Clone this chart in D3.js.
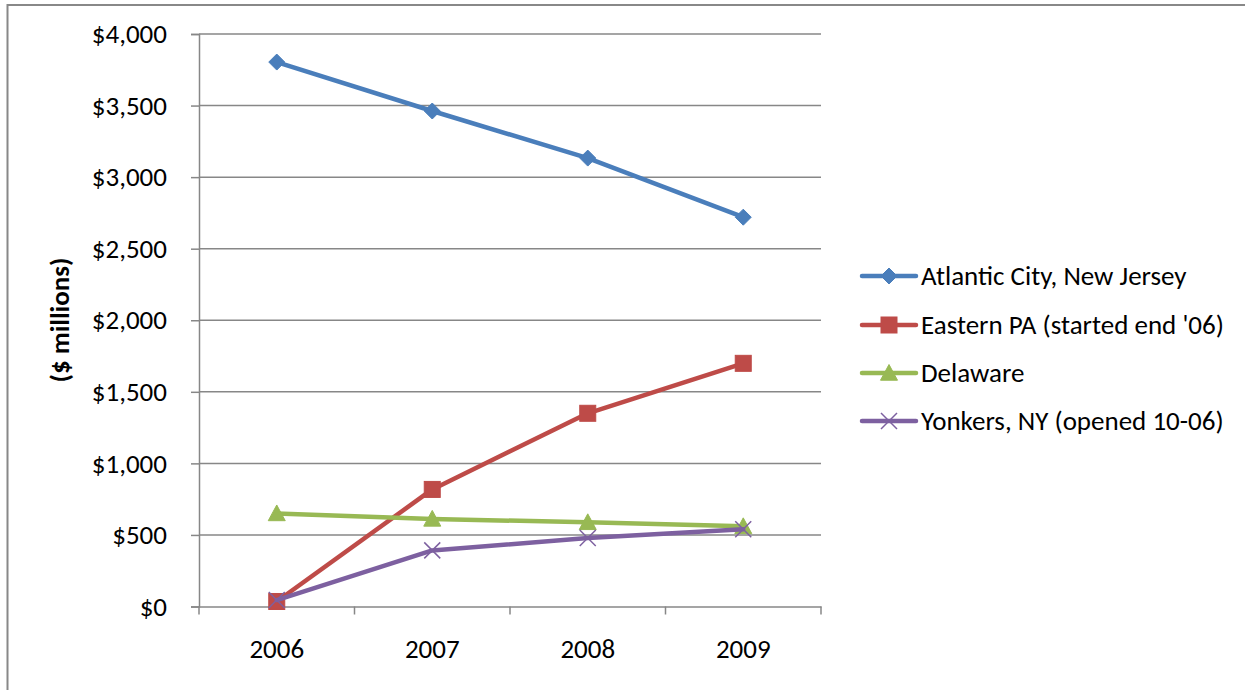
<!DOCTYPE html>
<html><head><meta charset="utf-8">
<script src="https://cdn.jsdelivr.net/npm/d3@7"></script>
<style>
html,body{margin:0;padding:0;background:#fff;}
svg{display:block;font-family:Carlito,Calibri,"Open Sans",sans-serif;}
</style></head>
<body>
<svg id="chart" width="1245" height="690"></svg>
<script>
const years = ["2006","2007","2008","2009"];
const seriesNames = ["Atlantic City, New Jersey","Eastern PA (started end '06)","Delaware","Yonkers, NY (opened 10-06)"];
const atlanticCity = [3804, 3462, 3133, 2720];
const easternPA = [35, 818, 1350, 1699];
const delaware = [650, 612, 588, 560];
const yonkers = [45, 392, 478, 540];
const yTicks = [0,500,1000,1500,2000,2500,3000,3500,4000];
const colors = ["#4A7EBB","#BE4B48","#98B954","#7D60A0"];
const markers = ["diamond","square","triangle","x"];

const series = [atlanticCity, easternPA, delaware, yonkers].map((v,i)=>({name:seriesNames[i], values:v, color:colors[i], marker:markers[i]}));

const FS = 27;
const svg = d3.select("#chart");
const L=199, R=821, T=34, B=606.5;
const x = d3.scaleBand().domain(years).range([L,R]);
const y = d3.scaleLinear().domain([0,4000]).range([B,T]);

// outer frame
svg.append("path").attr("d","M7.5,690 L7.5,5 L1245,5").attr("fill","none").attr("stroke","#888").attr("stroke-width",2);

// gridlines
svg.append("g").selectAll("line").data(yTicks.filter(d=>d>0)).join("line")
  .attr("x1",L).attr("x2",R).attr("y1",d=>y(d)).attr("y2",d=>y(d))
  .attr("stroke","#878787").attr("stroke-width",1.5);

// y axis
const fmt = d=>"$"+d3.format(",")(d);
const ya = svg.append("g").attr("transform",`translate(${L},0)`)
  .call(d3.axisLeft(y).tickValues(yTicks).tickFormat(fmt).tickSizeOuter(0).tickSize(8).tickPadding(24));
ya.select(".domain").attr("stroke","#878787").attr("stroke-width",1.5);
ya.selectAll(".tick line").attr("stroke","#878787").attr("stroke-width",1.5);
ya.selectAll("text").attr("font-size",FS).attr("fill","#000").attr("font-family","Carlito,Calibri,'Open Sans',sans-serif");

// x axis
const xa = svg.append("g").attr("transform",`translate(0,${B})`)
  .call(d3.axisBottom(x).tickSize(0).tickPadding(32).tickSizeOuter(0));
xa.select(".domain").attr("stroke","#878787").attr("stroke-width",1.5);
xa.selectAll("text").attr("font-size",FS).attr("fill","#000").attr("font-family","Carlito,Calibri,'Open Sans',sans-serif");
// x tick marks at band boundaries
const bounds = years.map(d=>x(d)).concat([R]);
svg.append("g").selectAll("line").data(bounds).join("line")
  .attr("x1",d=>d).attr("x2",d=>d).attr("y1",B).attr("y2",B+8)
  .attr("stroke","#878787").attr("stroke-width",1.5);

// y label
svg.append("text").attr("transform","translate(69,320) rotate(-90)")
  .attr("text-anchor","middle").attr("font-size",FS).attr("font-weight","bold").text("($ millions)");

function drawMarker(g, type, cx, cy, color){
  if(type==="diamond"){
    const s=8;
    g.append("path").attr("d",`M${cx},${cy-s}L${cx+s},${cy}L${cx},${cy+s}L${cx-s},${cy}Z`).attr("fill",color).attr("stroke",color).attr("stroke-width",1);
  } else if(type==="square"){
    const s=8;
    g.append("rect").attr("x",cx-s).attr("y",cy-s).attr("width",2*s).attr("height",2*s).attr("fill",color).attr("stroke",color).attr("stroke-width",1);
  } else if(type==="triangle"){
    const s=8.5;
    g.append("path").attr("d",`M${cx},${cy-s}L${cx+s},${cy+s*0.85}L${cx-s},${cy+s*0.85}Z`).attr("fill",color).attr("stroke",color).attr("stroke-width",1);
  } else if(type==="x"){
    const s=8;
    g.append("path").attr("d",`M${cx-s},${cy-s}L${cx+s},${cy+s}M${cx-s},${cy+s}L${cx+s},${cy-s}`).attr("stroke",color).attr("stroke-width",1.5);
  }
}

const line = d3.line().x((d,i)=>x(years[i])+x.bandwidth()/2).y(d=>y(d));
series.forEach(s=>{
  const g = svg.append("g");
  g.append("path").attr("d",line(s.values)).attr("fill","none").attr("stroke",s.color).attr("stroke-width",4.5).attr("stroke-linejoin","round").attr("stroke-linecap","round");
  s.values.forEach((v,i)=>drawMarker(g,s.marker,x(years[i])+x.bandwidth()/2,y(v),s.color));
});

// legend
const legY = [276,325,373,421];
series.forEach((s,i)=>{
  const g = svg.append("g");
  g.append("line").attr("x1",862).attr("x2",916).attr("y1",legY[i]).attr("y2",legY[i]).attr("stroke",s.color).attr("stroke-width",4.5).attr("stroke-linecap","round");
  drawMarker(g,s.marker,889,legY[i],s.color);
  g.append("text").attr("x",921).attr("y",legY[i]).attr("dy","0.35em").attr("font-size",FS).attr("fill","#000").text(s.name);
});
</script>
</body></html>
